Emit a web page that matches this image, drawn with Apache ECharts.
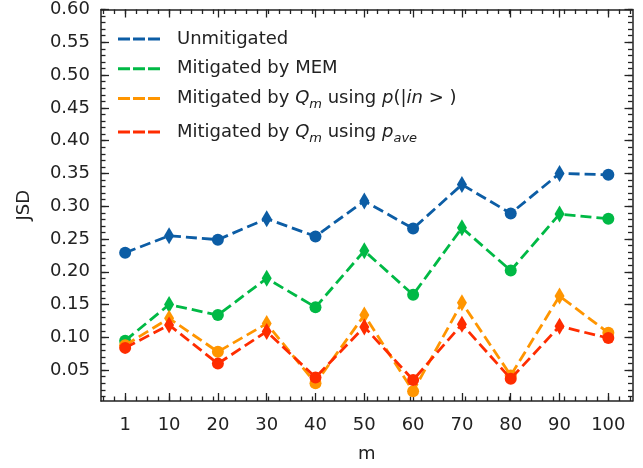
<!DOCTYPE html>
<html>
<head>
<meta charset="utf-8">
<script src="https://cdn.jsdelivr.net/npm/echarts@6/dist/echarts.min.js"></script>
<style>
  html, body { margin: 0; padding: 0; background: #fff; }
  #chart { width: 643px; height: 468px; }
</style>
</head>
<body>
<div id="chart"></div>
<script>
'use strict';

// m values (x axis)
var mValues = [1, 10, 20, 30, 40, 50, 60, 70, 80, 90, 100];
// JSD per method
var unmitigated = [0.229, 0.255, 0.249, 0.281, 0.254, 0.308, 0.266, 0.333, 0.289, 0.350, 0.348];
var mitigatedMEM = [0.095, 0.150, 0.134, 0.190, 0.146, 0.232, 0.165, 0.267, 0.202, 0.288, 0.281];
var mitigatedQmIn = [0.088, 0.129, 0.078, 0.121, 0.030, 0.134, 0.018, 0.153, 0.042, 0.163, 0.107];
var mitigatedQmAve = [0.084, 0.119, 0.060, 0.109, 0.039, 0.116, 0.035, 0.120, 0.037, 0.117, 0.099];
// marker per point: circles and thin diamonds alternate
var markerShapes = ['circle', 'diamond', 'circle', 'diamond', 'circle', 'diamond',
    'circle', 'diamond', 'circle', 'diamond', 'circle'];
var yMajorTicks = [0.05, 0.10, 0.15, 0.20, 0.25, 0.30, 0.35, 0.40, 0.45, 0.50, 0.55, 0.60];

var seriesNames = ['Unmitigated', 'Mitigated by MEM', 'Mitigated by Qm using p_in', 'Mitigated by Qm using p_ave'];
var seriesColors = ['#0C5DA5', '#00B945', '#FF9500', '#FF2C00'];

var FONT = 'DejaVu Sans';
var xMin = -3.95, xMax = 104.95;
var yMin = 0.003, yMax = 0.6;

// minor tick positions (matplotlib AutoMinorLocator style)
var xMinorTicks = [];
for (var t = 1 - 2.25 * 2; t < xMax; t += 2.25) {
    xMinorTicks.push(+t.toFixed(2));
}
var yMinorTicks = [];
for (var k = 1; k <= 60; k++) {
    yMinorTicks.push(+(k * 0.01).toFixed(2));
}

function buildData(values) {
    return values.map(function (v, i) {
        var shape = markerShapes[i];
        return {
            value: [mValues[i], v],
            symbol: shape,
            symbolSize: shape === 'circle' ? 12 : [10, 17]
        };
    });
}

function xAxisCfg(pos, ticks, len, main) {
    return {
        type: 'value', position: pos, min: xMin, max: xMax,
        axisLine: { show: main, onZero: false, lineStyle: { color: '#222', width: 1.5 } },
        axisTick: { show: true, inside: true, length: len, customValues: ticks,
            lineStyle: { color: '#222', width: 1.3 } },
        axisLabel: { show: main && pos === 'bottom', customValues: mValues, margin: 15,
            color: '#222', fontFamily: FONT, fontSize: 18 },
        splitLine: { show: false },
        name: main && pos === 'bottom' ? 'm' : '',
        nameLocation: 'middle', nameGap: 44,
        nameTextStyle: { color: '#222', fontFamily: FONT, fontSize: 18 }
    };
}

function yAxisCfg(pos, ticks, len, main) {
    return {
        type: 'value', position: pos, min: yMin, max: yMax,
        axisLine: { show: main, onZero: false, lineStyle: { color: '#222', width: 1.5 } },
        axisTick: { show: true, inside: true, length: len, customValues: ticks,
            lineStyle: { color: '#222', width: 1.3 } },
        axisLabel: { show: main && pos === 'left', customValues: yMajorTicks, margin: 11,
            color: '#222', fontFamily: FONT, fontSize: 18,
            formatter: function (v) { return v.toFixed(2); } },
        splitLine: { show: false },
        name: main && pos === 'left' ? 'JSD' : '',
        nameLocation: 'middle', nameGap: 68,
        nameTextStyle: { color: '#222', fontFamily: FONT, fontSize: 18 }
    };
}

var legendText = {
    'Unmitigated': '{n|Unmitigated}',
    'Mitigated by MEM': '{n|Mitigated by MEM}',
    'Mitigated by Qm using p_in': '{n|Mitigated by }{i|Q}{s|m}{n| using }{i|p}{n|(|}{i|in}{n| > )}',
    'Mitigated by Qm using p_ave': '{n|Mitigated by }{i|Q}{s|m}{n| using }{i|p}{s|ave}'
};

var dashIcon = 'path://M0,0h12v3h-12z M15,0h12v3h-12z M30,0h12v3h-12z';

var chart = echarts.init(document.getElementById('chart'), null, { renderer: 'canvas' });

var option = {
    backgroundColor: '#fff',
    animation: false,
    grid: { left: 101, right: 10.5, top: 9.5, bottom: 66, containLabel: false },
    legend: {
        orient: 'vertical', left: 118, top: 30, padding: 0, itemGap: 11.7,
        itemWidth: 42, itemHeight: 3,
        data: seriesNames.map(function (n, i) {
            return { name: n, icon: dashIcon, itemStyle: { color: seriesColors[i] } };
        }),
        formatter: function (name) { return legendText[name]; },
        textStyle: {
            color: '#222', fontFamily: FONT, fontSize: 18, padding: [0, 0, 0, 12],
            rich: {
                n: { fontFamily: FONT, fontSize: 18, color: '#222', lineHeight: 26 },
                i: { fontFamily: FONT, fontSize: 18, fontStyle: 'italic', color: '#222', lineHeight: 26 },
                s: { fontFamily: FONT, fontSize: 13, fontStyle: 'italic', color: '#222',
                    lineHeight: 14, verticalAlign: 'bottom' }
            }
        }
    },
    xAxis: [
        xAxisCfg('bottom', mValues, 8, true),
        xAxisCfg('bottom', xMinorTicks, 4.5, false),
        xAxisCfg('top', mValues, 8, true),
        xAxisCfg('top', xMinorTicks, 4.5, false)
    ],
    yAxis: [
        yAxisCfg('left', yMajorTicks, 8, true),
        yAxisCfg('left', yMinorTicks, 4.5, false),
        yAxisCfg('right', yMajorTicks, 8, true),
        yAxisCfg('right', yMinorTicks, 4.5, false)
    ],
    series: [unmitigated, mitigatedMEM, mitigatedQmIn, mitigatedQmAve].map(function (vals, i) {
        return {
            name: seriesNames[i],
            type: 'line',
            xAxisIndex: 0,
            yAxisIndex: 0,
            data: buildData(vals),
            color: seriesColors[i],
            lineStyle: { width: 2.8, type: [11, 5], color: seriesColors[i] },
            itemStyle: { color: seriesColors[i] },
            z: 2 + i
        };
    })
};

chart.setOption(option);
</script>
</body>
</html>
